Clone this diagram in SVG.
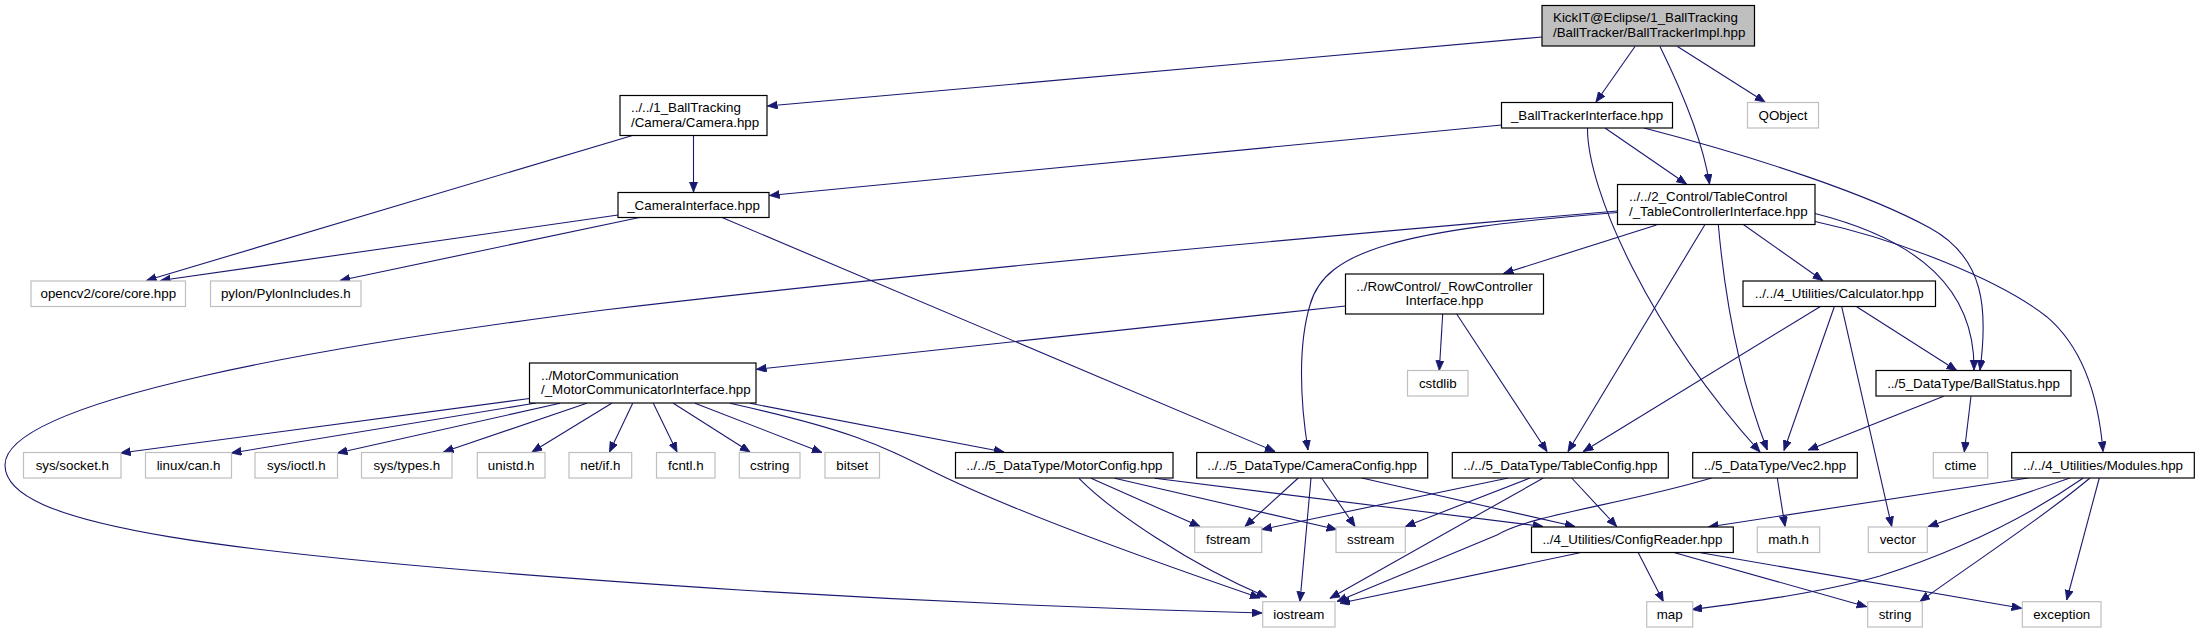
<svg xmlns="http://www.w3.org/2000/svg" width="2200" height="633" viewBox="0 0 2200 633">
<defs>
<style>
text{font-family:"Liberation Sans",Arial,Helvetica,sans-serif;font-size:13.33px;fill:#000}
.c{text-anchor:middle}
.d rect{fill:#fff;stroke:#000;stroke-width:1.2}
.u rect{fill:#fff;stroke:#bfbfbf;stroke-width:1.2}
.r rect{fill:#bfbfbf;stroke:#000;stroke-width:1.2}
#edges path{fill:none;stroke:#191970;stroke-width:1.1;marker-end:url(#ah)}
</style>
<marker id="ah" markerUnits="userSpaceOnUse" markerWidth="11" markerHeight="9" refX="10" refY="4" orient="auto">
<path d="M0,0 L10,4 L0,8 z" fill="#191970" stroke="#191970" stroke-width="0.8"/>
</marker>
</defs>
<rect width="2200" height="633" fill="#fff"/>
<g id="edges">
<path d="M1542,37 L767.5,106"/>
<path d="M1635,46.5 L1596,102"/>
<path d="M1660,46.5 C1674,75 1702,135 1709.5,184"/>
<path d="M1677.5,46.5 L1765,102"/>
<path d="M693.5,135.5 L693.5,192"/>
<path d="M632.5,135.5 L146.5,280.5"/>
<path d="M1501.5,125 L769.5,195.5"/>
<path d="M1605,128 L1686.5,184"/>
<path d="M1587.5,128 C1587,190 1650,330 1760,452"/>
<path d="M1644,128 C1760,158 1870,195 1930,228 C1985,258 1988,310 1980,370"/>
<path d="M618,215 L160.5,280.5"/>
<path d="M639.5,217.5 L340,280.5"/>
<path d="M722,217.5 L1275,451.5"/>
<path d="M1617.5,211 C1300,238 900,275 604,310 C330,345 5,400 5,465 C5,525 200,555 740,590 C950,603 1150,610 1262,613"/>
<path d="M1617.5,212.5 C1400,230 1325,250 1310,305 C1298,345 1300,400 1308,450"/>
<path d="M1656.5,225 L1503.5,273.5"/>
<path d="M1705,224.5 L1568,451.5"/>
<path d="M1718.3,224.5 C1725,300 1740,380 1767.3,450"/>
<path d="M1743.3,224.5 L1822.7,280.5"/>
<path d="M1815,213.5 C1920,240 1975,290 1974,370"/>
<path d="M1815,221.5 C1900,240 2000,280 2046.7,316.7 C2080,345 2098,390 2103,451.5"/>
<path d="M1345.5,306 L756.5,369.3"/>
<path d="M1442.7,314 L1439.3,370.5"/>
<path d="M1456.7,314 L1547,451.5"/>
<path d="M529.5,398.5 L120.5,453"/>
<path d="M536,403 L231.3,453"/>
<path d="M560,403.3 L337.4,453"/>
<path d="M586.7,403.3 L443.5,452"/>
<path d="M611.7,403.3 L532,452"/>
<path d="M632.7,403.3 L609.5,452"/>
<path d="M653.3,403.3 L677,452"/>
<path d="M673.3,403.3 L750,452"/>
<path d="M695,403.3 L822,452.5"/>
<path d="M750,403.3 L1004,452"/>
<path d="M730,403.3 C850,430 880,445 930,470 C1000,505 1120,550 1260,598"/>
<path d="M1079,478.3 C1110,510 1190,565 1266.7,597"/>
<path d="M1091,478.3 L1200,526.5"/>
<path d="M1114.6,478.3 L1336.7,529.5"/>
<path d="M1154.7,478.3 L1543,526.5"/>
<path d="M1298.3,478 L1245,526.5"/>
<path d="M1311,478 L1300,601.5"/>
<path d="M1321.7,478 L1355,526.5"/>
<path d="M1361.7,478 L1575,526.5"/>
<path d="M1508.3,478 L1261.7,529.5"/>
<path d="M1530,478 L1405.3,526.5"/>
<path d="M1543.3,478 L1330,598.3"/>
<path d="M1571.7,478 L1616.7,526.5"/>
<path d="M1711.7,478 C1620,505 1530,515 1497,535 L1337,601.5"/>
<path d="M1580,552.7 L1340,603.3"/>
<path d="M1638.3,552.7 L1663.3,601.5"/>
<path d="M1674.7,552.7 L1866.7,606.7"/>
<path d="M1700.7,552.7 L2021.7,608.3"/>
<path d="M1820,306.7 L1583.3,451.5"/>
<path d="M1834.3,306.7 L1784,450.5"/>
<path d="M1841.7,306.7 L1891.7,526.5"/>
<path d="M1856.7,306.7 L1956.7,370.5"/>
<path d="M1943.7,396.3 L1808.3,450"/>
<path d="M1971,396.3 L1964.3,452"/>
<path d="M1777.3,478 L1785,526.5"/>
<path d="M2028.3,478 L1708.3,527"/>
<path d="M2070,478 L1928.3,526.5"/>
<path d="M2083.3,478 C2030,515 1960,550 1880,576 C1820,593 1750,602 1692,609.5"/>
<path d="M2090,478 C2040,520 1970,565 1920,601.5"/>
<path d="M2099.3,478 L2066.7,600"/>
</g>
<g id="n_root" class="r"><rect x="1542" y="5.5" width="212.5" height="40.5"/><text x="1553" y="22">KickIT@Eclipse/1_BallTracking</text><text x="1553" y="37">/BallTracker/BallTrackerImpl.hpp</text></g>
<g id="n_camera" class="d"><rect x="620" y="95.5" width="147" height="40"/><text x="631" y="112">../../1_BallTracking</text><text x="631" y="126.5">/Camera/Camera.hpp</text></g>
<g id="n_bti" class="d"><rect x="1501.5" y="102.5" width="171" height="25.5"/><text class="c" x="1587" y="119.5">_BallTrackerInterface.hpp</text></g>
<g id="n_qobject" class="u"><rect x="1747.5" y="102.5" width="71" height="25.5"/><text class="c" x="1783" y="119.5">QObject</text></g>
<g id="n_camif" class="d"><rect x="618" y="192.5" width="151" height="25"/><text class="c" x="693.5" y="209.5">_CameraInterface.hpp</text></g>
<g id="n_tc" class="d"><rect x="1617.5" y="184.5" width="197.5" height="40"/><text x="1629" y="201">../../2_Control/TableControl</text><text x="1629" y="215.5">/_TableControllerInterface.hpp</text></g>
<g id="n_opencv" class="u"><rect x="31" y="281" width="154.5" height="25.5"/><text class="c" x="108.3" y="298">opencv2/core/core.hpp</text></g>
<g id="n_pylon" class="u"><rect x="210.5" y="281" width="150.5" height="25.5"/><text class="c" x="285.8" y="298">pylon/PylonIncludes.h</text></g>
<g id="n_row" class="d"><rect x="1345.5" y="274" width="198" height="40"/><text class="c" x="1444.5" y="290.5">../RowControl/_RowController</text><text class="c" x="1444.5" y="305">Interface.hpp</text></g>
<g id="n_calc" class="d"><rect x="1743" y="281" width="192.5" height="25.5"/><text class="c" x="1839.2" y="298">../../4_Utilities/Calculator.hpp</text></g>
<g id="n_motorcomm" class="d"><rect x="529.5" y="363" width="226.5" height="40"/><text x="541" y="379.5">../MotorCommunication</text><text x="541" y="394">/_MotorCommunicatorInterface.hpp</text></g>
<g id="n_cstdlib" class="u"><rect x="1407.5" y="370.5" width="60.5" height="25.5"/><text class="c" x="1437.8" y="387.5">cstdlib</text></g>
<g id="n_ballstatus" class="d"><rect x="1876" y="370.5" width="195" height="25.5"/><text class="c" x="1973.5" y="387.5">../5_DataType/BallStatus.hpp</text></g>
<g id="n_socket" class="u"><rect x="23.5" y="452.5" width="97.5" height="25.5"/><text class="c" x="72.3" y="469.5">sys/socket.h</text></g>
<g id="n_can" class="u"><rect x="145.5" y="452.5" width="86" height="25.5"/><text class="c" x="188.5" y="469.5">linux/can.h</text></g>
<g id="n_ioctl" class="u"><rect x="255" y="452.5" width="82.5" height="25.5"/><text class="c" x="296.3" y="469.5">sys/ioctl.h</text></g>
<g id="n_types" class="u"><rect x="361.5" y="452.5" width="90.5" height="25.5"/><text class="c" x="406.8" y="469.5">sys/types.h</text></g>
<g id="n_unistd" class="u"><rect x="477.3" y="452.5" width="67.7" height="25.5"/><text class="c" x="511.2" y="469.5">unistd.h</text></g>
<g id="n_netif" class="u"><rect x="569" y="452.5" width="62.7" height="25.5"/><text class="c" x="600.3" y="469.5">net/if.h</text></g>
<g id="n_fcntl" class="u"><rect x="656.5" y="452.5" width="58.5" height="25.5"/><text class="c" x="685.8" y="469.5">fcntl.h</text></g>
<g id="n_cstring" class="u"><rect x="739.3" y="452.5" width="60.7" height="25.5"/><text class="c" x="769.7" y="469.5">cstring</text></g>
<g id="n_bitset" class="u"><rect x="825" y="452.5" width="54.5" height="25.5"/><text class="c" x="852.3" y="469.5">bitset</text></g>
<g id="n_motorcfg" class="d"><rect x="955.5" y="452.5" width="217.5" height="25.5"/><text class="c" x="1064.3" y="469.5">../../5_DataType/MotorConfig.hpp</text></g>
<g id="n_camcfg" class="d"><rect x="1196.7" y="452.5" width="231" height="25.5"/><text class="c" x="1312.2" y="469.5">../../5_DataType/CameraConfig.hpp</text></g>
<g id="n_tablecfg" class="d"><rect x="1452.3" y="452.5" width="216" height="25.5"/><text class="c" x="1560.3" y="469.5">../../5_DataType/TableConfig.hpp</text></g>
<g id="n_vec2" class="d"><rect x="1692.7" y="452.5" width="164.6" height="25.5"/><text class="c" x="1775" y="469.5">../5_DataType/Vec2.hpp</text></g>
<g id="n_ctime" class="u"><rect x="1933.3" y="452.5" width="54.4" height="25.5"/><text class="c" x="1960.5" y="469.5">ctime</text></g>
<g id="n_modules" class="d"><rect x="2011.7" y="452.5" width="182.6" height="25.5"/><text class="c" x="2103" y="469.5">../../4_Utilities/Modules.hpp</text></g>
<g id="n_fstream" class="u"><rect x="1194.7" y="527" width="67" height="25.5"/><text class="c" x="1228.2" y="544">fstream</text></g>
<g id="n_sstream" class="u"><rect x="1336" y="527" width="69.3" height="25.5"/><text class="c" x="1370.7" y="544">sstream</text></g>
<g id="n_configreader" class="d"><rect x="1531.5" y="527" width="201.8" height="25.5"/><text class="c" x="1632.4" y="544">../4_Utilities/ConfigReader.hpp</text></g>
<g id="n_math" class="u"><rect x="1757.3" y="527" width="62.4" height="25.5"/><text class="c" x="1788.5" y="544">math.h</text></g>
<g id="n_vector" class="u"><rect x="1868.3" y="527" width="59" height="25.5"/><text class="c" x="1897.8" y="544">vector</text></g>
<g id="n_iostream" class="u"><rect x="1262.7" y="601.7" width="72.3" height="25.3"/><text class="c" x="1298.8" y="618.5">iostream</text></g>
<g id="n_map" class="u"><rect x="1646.7" y="601.7" width="46" height="25.3"/><text class="c" x="1669.7" y="618.5">map</text></g>
<g id="n_string" class="u"><rect x="1867.7" y="601.7" width="54.6" height="25.3"/><text class="c" x="1895" y="618.5">string</text></g>
<g id="n_exception" class="u"><rect x="2022.3" y="601.7" width="78.7" height="25.3"/><text class="c" x="2061.7" y="618.5">exception</text></g>
</svg>
